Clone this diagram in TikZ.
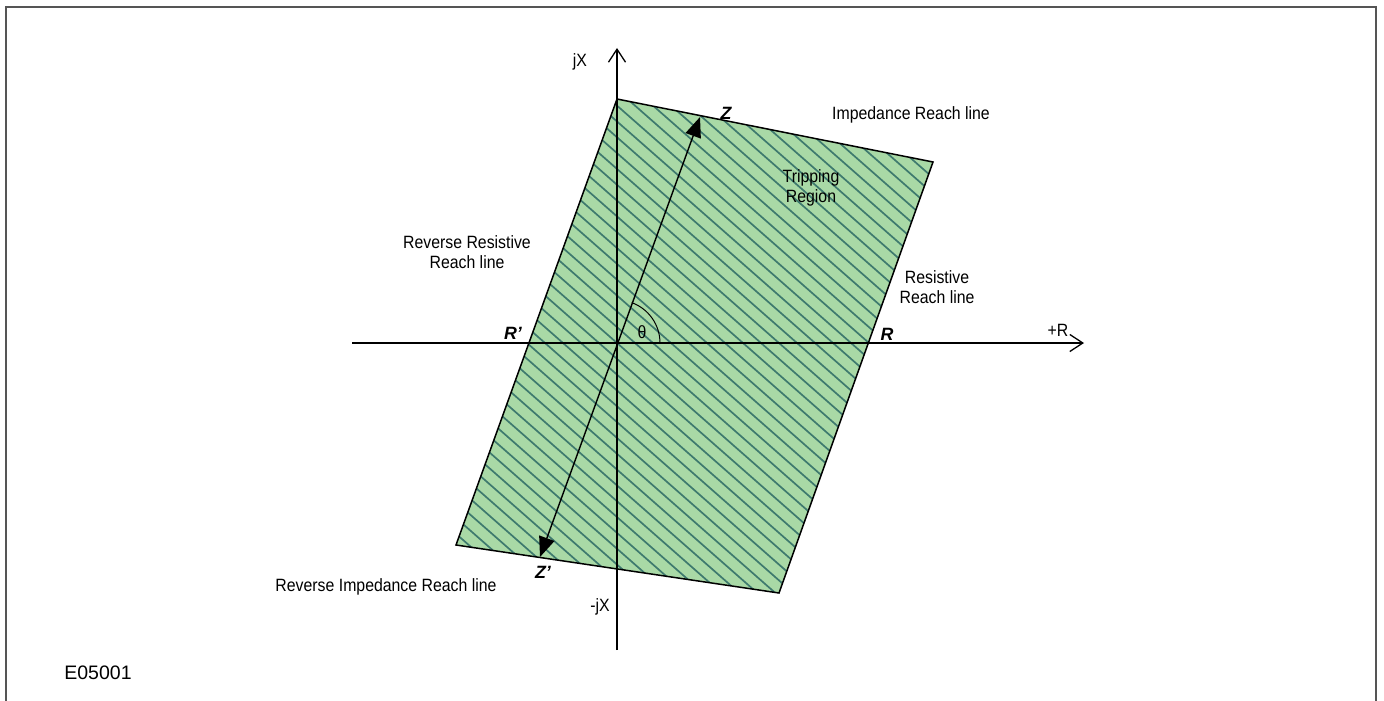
\documentclass[tikz,border=0pt]{standalone}
\usepackage{fontspec}
\setmainfont{Liberation Sans}
\newfontfamily\narrowf[FakeStretch=0.89]{Liberation Sans}
\usetikzlibrary{arrows.meta}
\definecolor{fillg}{HTML}{A9D9A6}
\definecolor{hatchc}{HTML}{3E7A6E}
\definecolor{framec}{HTML}{555555}
\begin{document}
\begin{tikzpicture}[x=1pt,y=-1pt,
  lab/.style={font=\narrowf\fontsize{17.8}{20.5}\selectfont, inner sep=0pt, align=center},
  blab/.style={font=\fontsize{17.8}{20}\selectfont\bfseries\itshape, inner sep=0pt},
  axisline/.style={line width=1.3pt, -{Straight Barb[length=13pt,width=17pt,line width=1.3pt]}},
  edge/.style={line width=1.5pt, black},
  hatch/.style={hatchc, line width=1.7pt},
  zarrow/.style={line width=1.4pt, {Triangle[length=20pt,width=16pt]}-{Triangle[length=20pt,width=16pt]}}]
\useasboundingbox (0,0) rectangle (1384,701);
\draw[framec, line width=2pt] (6,701) -- (6,7) -- (1376,7) -- (1376,701);
% quadrilateral
\coordinate (A) at (617,99);
\coordinate (B) at (933,162);
\coordinate (C) at (779,593);
\coordinate (D) at (456,545);
\fill[fillg] (A) -- (B) -- (C) -- (D) -- cycle;
\begin{scope}
  \clip (A) -- (B) -- (C) -- (D) -- cycle;
  \foreach \i in {-30,...,40} {
    \draw[hatch] ({617+18*\i-364},23) -- ({617+18*\i+364},663);
  }
\end{scope}
\draw[edge] (A) -- (B) -- (C) -- (D) -- cycle;
% axes
\coordinate (O) at (617,343);
\coordinate (xl) at (352,343);
\coordinate (xr) at (1084,343);
\coordinate (yb) at (617,650);
\coordinate (yt) at (617,48);
\draw[axisline] (xl) -- (xr);
\draw[axisline] (yb) -- (yt);
% Z arrow
\coordinate (Zt) at (700,117);
\coordinate (Zb) at (540,557);
\draw[zarrow] (Zb) -- (Zt);
% theta arc
\draw[line width=1pt] (660,343) arc[start angle=0, end angle=-70, radius=43];
% labels
\node[lab] (jx) at (580,62) {jX};
\node[lab] (mjx) at (600,607) {-jX};
\node[lab] (pr) at (1058,330) {+R};
\node[blab] (zl) at (726,113) {Z};
\node[blab] (zpl) at (543,572) {Z’};
\node[blab] (rpl) at (513,333) {R’};
\node[blab] (rl) at (887,334) {R};
\node[lab] (th) at (642,332) {θ};
\node[lab] (irl) at (911,115) {Impedance Reach line};
\node[lab] (trl) at (811,188) {Tripping\\Region};
\node[lab] (rrl) at (467,252) {Reverse Resistive\\Reach line};
\node[lab] (rsl) at (937,287) {Resistive\\Reach line};
\node[lab] (rirl) at (386,587) {Reverse Impedance Reach line};
\node[font=\fontsize{19.5}{22}\selectfont, inner sep=0pt] (code) at (98,673) {E05001};
\end{tikzpicture}
\end{document}
